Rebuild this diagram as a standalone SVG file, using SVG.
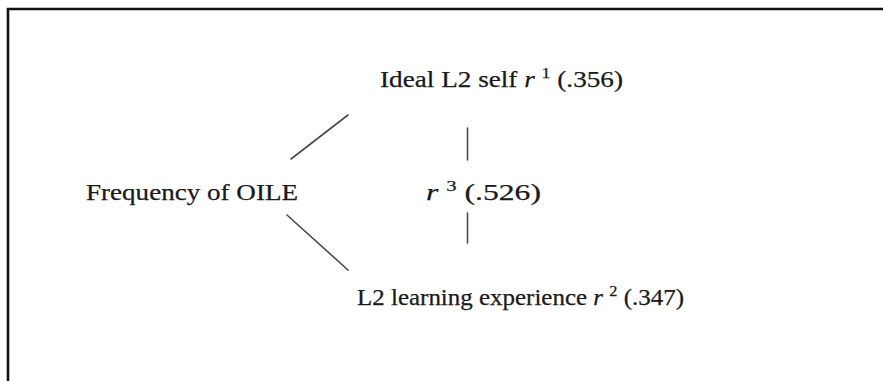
<svg xmlns="http://www.w3.org/2000/svg" width="883" height="381" viewBox="0 0 883 381">
  <style>
    .lbl { font-family: "Liberation Serif", "Times New Roman", serif; font-size: 23px; fill: #1a1a1a; stroke: #1a1a1a; stroke-width: 0.25; }
    .it { font-style: italic; }
    .sup { font-size: 15px; }
    .link { stroke: #4a4a4a; stroke-width: 1.6; fill: none; stroke-linecap: round; }
    .frame { stroke: #111; stroke-width: 2.6; fill: none; }
  </style>
  <rect width="883" height="381" fill="#ffffff"/>
  <!-- open frame: top and left edges only -->
  <path class="frame" d="M8,381 V9 H883"/>

  <g id="connectors">
    <line class="link" x1="291" y1="159" x2="348" y2="115"/>
    <line class="link" x1="287" y1="215" x2="348" y2="270"/>
    <line class="link" x1="467.5" y1="128" x2="467.5" y2="160"/>
    <line class="link" x1="467.5" y1="213" x2="467.5" y2="243"/>
  </g>

  <g id="ideal-l2-self">
    <text class="lbl" x="380" y="87" textLength="243" lengthAdjust="spacingAndGlyphs">Ideal L2 self <tspan class="it">r</tspan> <tspan class="sup" dy="-9">1</tspan><tspan dy="9"> (.356)</tspan></text>
  </g>

  <g id="frequency-oile">
    <text class="lbl" x="86" y="200" textLength="212" lengthAdjust="spacingAndGlyphs">Frequency of OILE</text>
  </g>

  <g id="r3">
    <text class="lbl" x="426" y="200" textLength="115" lengthAdjust="spacingAndGlyphs"><tspan class="it">r</tspan> <tspan class="sup" dy="-9">3</tspan><tspan dy="9"> (.526)</tspan></text>
  </g>

  <g id="l2-learning-experience">
    <text class="lbl" x="357" y="305" textLength="327" lengthAdjust="spacingAndGlyphs">L2 learning experience <tspan class="it">r</tspan> <tspan class="sup" dy="-9">2</tspan><tspan dy="9"> (.347)</tspan></text>
  </g>
</svg>
